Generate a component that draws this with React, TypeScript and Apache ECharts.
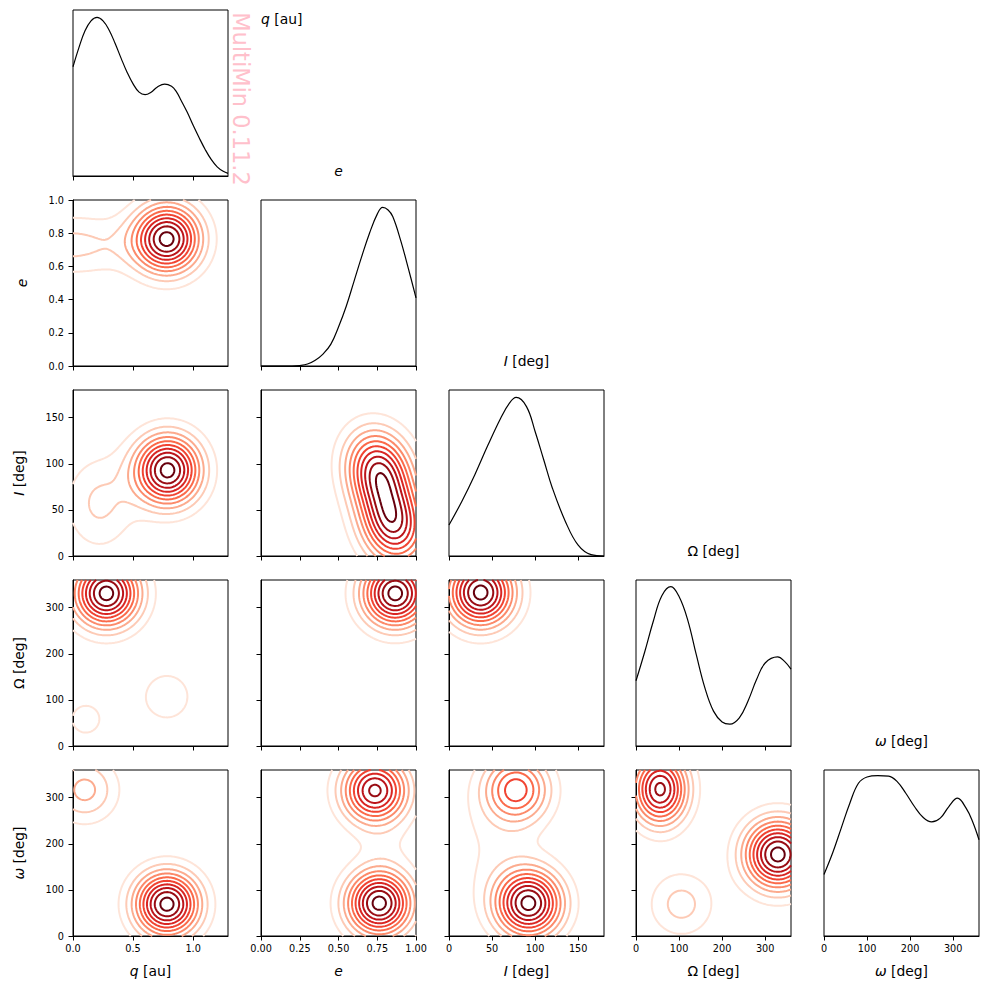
import React, { useEffect, useRef } from 'react';
import * as echarts from 'echarts';

// ---- parameters of the corner plot: q, e, I, Omega, omega ----
const PARAM_MIN = [0, 0, 0, 0, 0];
const PARAM_MAX = [1.29, 1, 180, 360, 360];
const X_TICKS = [
  [0, 0.5, 1.0],
  [0, 0.25, 0.5, 0.75, 1.0],
  [0, 50, 100, 150],
  [0, 100, 200, 300],
  [0, 100, 200, 300],
];
const Y_TICKS = [
  [0, 0.5, 1.0],
  [0, 0.2, 0.4, 0.6, 0.8, 1.0],
  [0, 50, 100, 150],
  [0, 100, 200, 300],
  [0, 100, 200, 300],
];
const X_DECIMALS = [1, 2, 0, 0, 0];
const Y_DECIMALS = [1, 1, 0, 0, 0];

// label pieces: [text, style] where style 'i' = math italic, 'n' = upright
const PARAM_LABELS: [string, string][][] = [
  [['q', 'i'], [' [au]', 'n']],
  [['e', 'i']],
  [['I', 'i'], [' [deg]', 'n']],
  [['\u03A9', 'n'], [' [deg]', 'n']],
  [['\u03C9', 'i'], [' [deg]', 'n']],
];

const WATERMARK = 'MultiMin 0.11.2';

// ---- 1D marginal densities (relative height) ----
const qMarginalX = [0, 0.05, 0.1, 0.15, 0.2, 0.25, 0.3, 0.35, 0.4, 0.45, 0.5, 0.55, 0.6, 0.65, 0.7, 0.763, 0.82, 0.86, 0.9, 0.95, 1.0, 1.05, 1.1, 1.15, 1.2, 1.25, 1.29];
const qMarginalY = [0.658, 0.775, 0.875, 0.935, 0.956, 0.935, 0.88, 0.8, 0.71, 0.625, 0.555, 0.505, 0.49, 0.505, 0.535, 0.554, 0.54, 0.508, 0.455, 0.385, 0.305, 0.23, 0.16, 0.1, 0.055, 0.028, 0.016];

const eMarginalX = [0, 0.1, 0.2, 0.25, 0.3, 0.35, 0.4, 0.45, 0.5, 0.55, 0.6, 0.65, 0.7, 0.75, 0.785, 0.82, 0.85, 0.9, 0.95, 1.0];
const eMarginalY = [0, 0, 0, 0.003, 0.012, 0.035, 0.072, 0.13, 0.235, 0.36, 0.51, 0.66, 0.8, 0.915, 0.955, 0.94, 0.9, 0.76, 0.59, 0.41];

const iMarginalX = [0, 15, 30, 45, 60, 70, 78, 90, 100, 110, 120, 135, 150, 165, 180];
const iMarginalY = [0.187, 0.33, 0.49, 0.665, 0.83, 0.92, 0.955, 0.9, 0.75, 0.58, 0.41, 0.21, 0.065, 0.008, 0];

const bigOmegaMarginalX = [0, 20, 40, 60, 81, 100, 120, 140, 160, 180, 200, 218, 240, 260, 280, 300, 329, 345, 360];
const bigOmegaMarginalY = [0.393, 0.565, 0.75, 0.905, 0.96, 0.9, 0.76, 0.55, 0.35, 0.21, 0.145, 0.132, 0.17, 0.27, 0.4, 0.5, 0.537, 0.51, 0.463];

const omegaMarginalX = [0, 20, 40, 60, 80, 100, 125, 150, 170, 190, 210, 230, 250, 270, 290, 310, 330, 345, 360];
const omegaMarginalY = [0.371, 0.5, 0.65, 0.8, 0.92, 0.958, 0.966, 0.963, 0.93, 0.86, 0.78, 0.715, 0.687, 0.71, 0.78, 0.83, 0.77, 0.69, 0.58];

const MARGINALS = [
  [qMarginalX, qMarginalY],
  [eMarginalX, eMarginalY],
  [iMarginalX, iMarginalY],
  [bigOmegaMarginalX, bigOmegaMarginalY],
  [omegaMarginalX, omegaMarginalY],
];

// ---- 2D mixture components per pair: [cx, cy, sigmaX, sigmaY, rho, weight] ----
type Comp = number[];
const q_e: Comp[] = [
  [0.785, 0.766, 0.19, 0.14, 0, 1.0],
  [-0.02, 0.73, 0.4, 0.125, 0, 0.23],
];
const q_I: Comp[] = [
  [0.788, 93, 0.19, 26, 0, 1.0],
  [0.22, 57, 0.2, 35, 0, 0.21],
];
const e_I: Comp[] = [
  [0.759, 92.7, 0.145, 29.9, -0.12, 1.0],
  [0.854, 34.1, 0.145, 29.9, -0.12, 1.0],
];
const q_bigOmega: Comp[] = [
  [0.278, 331, 0.19, 50, 0, 1.0],
  [0.782, 107, 0.19, 50, 0, 0.143],
  [0.106, 58, 0.19, 50, 0, 0.113],
];
const e_bigOmega: Comp[] = [[0.866, 331, 0.148, 50, 0, 1.0]];
const I_bigOmega: Comp[] = [[36.8, 332.8, 26.7, 51, 0, 1.0]];
const q_omega: Comp[] = [
  [0.782, 69, 0.186, 48, 0, 1.0],
  [0.097, 317, 0.186, 48, 0, 0.32],
];
const e_omega: Comp[] = [
  [0.763, 71, 0.145, 48.5, 0, 1.0],
  [0.735, 315.5, 0.145, 48.5, 0, 0.89],
  [0.8, 195, 0.15, 40, 0, 0.06],
];
const I_omega: Comp[] = [
  [92.7, 70.4, 26.7, 49.7, 0, 1.0],
  [78.3, 318.3, 26.1, 48.6, 0, 0.62],
  [55, 195, 40, 100, 0, 0.1],
];
const bigOmega_omega: Comp[] = [
  [329.5, 176.8, 53.8, 51.4, 0, 1.0],
  [56, 318.3, 44, 53, 0, 0.89],
  [105.4, 69, 52, 48.6, 0, 0.23],
];

// keyed by "xIndex,yIndex"
const PAIRS: Record<string, Comp[]> = {
  '0,1': q_e,
  '0,2': q_I,
  '1,2': e_I,
  '0,3': q_bigOmega,
  '1,3': e_bigOmega,
  '2,3': I_bigOmega,
  '0,4': q_omega,
  '1,4': e_omega,
  '2,4': I_omega,
  '3,4': bigOmega_omega,
};

// ---- layout & style ----
const COL_LEFT = [73, 261, 449, 636, 824];
const ROW_TOP = [10, 200, 390, 580, 770];
const CELL_W = 155;
const CELL_H = 166;
const FONT = 'DejaVu Sans';
const TICK_FONT = 9.7;
const LABEL_FONT = 13.9;
const N_LEVELS = 10;
const PEAK_TO_STEP = 10.45;
const GRID_N = 130;
const LEVEL_COLORS = ['#fee4d8', '#fdcab5', '#fcab8e', '#fc8a6a', '#fb6a4a', '#f14432', '#d92623', '#bc141a', '#990c13', '#67000d'];

function mixtureDensity(comps: Comp[], x: number, y: number): number {
  let s = 0;
  for (const [cx, cy, sx, sy, rho, w] of comps) {
    const dx = (x - cx) / sx;
    const dy = (y - cy) / sy;
    const qf = (dx * dx - 2 * rho * dx * dy + dy * dy) / (1 - rho * rho);
    s += w * Math.exp(-0.5 * qf);
  }
  return s;
}

const SEG_TABLE: number[][][] = [
  [], [[3, 0]], [[0, 1]], [[3, 1]], [[1, 2]], [], [[0, 2]], [[3, 2]],
  [[2, 3]], [[0, 2]], [], [[1, 2]], [[1, 3]], [[0, 1]], [[3, 0]], [],
];

// marching squares, returning joined polylines for one level
function contourLines(field: number[][], xs: number[], ys: number[], level: number): number[][][] {
  const n = xs.length - 1;
  const m = ys.length - 1;
  const pts = new Map<string, number[]>();
  const segs: [string, string][] = [];

  const edgeKey = (e: number, i: number, j: number): string => {
    if (e === 0 || e === 2) {
      const jj = e === 0 ? j : j + 1;
      const key = `h${i}_${jj}`;
      if (!pts.has(key)) {
        const a = field[jj][i];
        const b = field[jj][i + 1];
        const t = (level - a) / (b - a);
        pts.set(key, [xs[i] + t * (xs[i + 1] - xs[i]), ys[jj]]);
      }
      return key;
    }
    const ii = e === 3 ? i : i + 1;
    const key = `v${ii}_${j}`;
    if (!pts.has(key)) {
      const a = field[j][ii];
      const b = field[j + 1][ii];
      const t = (level - a) / (b - a);
      pts.set(key, [xs[ii], ys[j] + t * (ys[j + 1] - ys[j])]);
    }
    return key;
  };

  for (let j = 0; j < m; j++) {
    for (let i = 0; i < n; i++) {
      const a = field[j][i];
      const b = field[j][i + 1];
      const c = field[j + 1][i + 1];
      const d = field[j + 1][i];
      const idx = (a > level ? 1 : 0) | (b > level ? 2 : 0) | (c > level ? 4 : 0) | (d > level ? 8 : 0);
      let pairs = SEG_TABLE[idx];
      if (idx === 5 || idx === 10) {
        const centerAbove = (a + b + c + d) / 4 > level;
        if (idx === 5) pairs = centerAbove ? [[0, 1], [2, 3]] : [[3, 0], [1, 2]];
        else pairs = centerAbove ? [[3, 0], [1, 2]] : [[0, 1], [2, 3]];
      }
      for (const [e1, e2] of pairs) {
        segs.push([edgeKey(e1, i, j), edgeKey(e2, i, j)]);
      }
    }
  }

  const adj = new Map<string, number[]>();
  segs.forEach(([p, q], k) => {
    if (!adj.has(p)) adj.set(p, []);
    if (!adj.has(q)) adj.set(q, []);
    adj.get(p)!.push(k);
    adj.get(q)!.push(k);
  });
  const used = new Array(segs.length).fill(false);
  const out: number[][][] = [];
  for (let s = 0; s < segs.length; s++) {
    if (used[s]) continue;
    used[s] = true;
    const chain = [segs[s][0], segs[s][1]];
    let cur = segs[s][1];
    for (;;) {
      const nxt = (adj.get(cur) || []).find((k) => !used[k]);
      if (nxt === undefined) break;
      used[nxt] = true;
      const [p, q] = segs[nxt];
      cur = p === cur ? q : p;
      chain.push(cur);
    }
    cur = segs[s][0];
    for (;;) {
      const nxt = (adj.get(cur) || []).find((k) => !used[k]);
      if (nxt === undefined) break;
      used[nxt] = true;
      const [p, q] = segs[nxt];
      cur = p === cur ? q : p;
      chain.unshift(cur);
    }
    out.push(chain.map((k) => pts.get(k)!));
  }
  return out;
}

function pairContours(xi: number, yi: number): number[][][][] {
  const comps = PAIRS[`${xi},${yi}`];
  const xs: number[] = [];
  const ys: number[] = [];
  for (let i = 0; i <= GRID_N; i++) {
    xs.push(PARAM_MIN[xi] + (i / GRID_N) * (PARAM_MAX[xi] - PARAM_MIN[xi]));
    ys.push(PARAM_MIN[yi] + (i / GRID_N) * (PARAM_MAX[yi] - PARAM_MIN[yi]));
  }
  let peak = 0;
  const field = ys.map((y) =>
    xs.map((x) => {
      const v = mixtureDensity(comps, x, y);
      if (v > peak) peak = v;
      return v;
    })
  );
  const step = peak / PEAK_TO_STEP;
  const result: number[][][][] = [];
  for (let k = 1; k <= N_LEVELS; k++) result.push(contourLines(field, xs, ys, k * step));
  return result;
}

function richLabel(parts: [string, string][]): string {
  return parts.map(([t, s]) => `{${s}|${t}}`).join('');
}

const RICH = {
  i: { fontFamily: FONT, fontSize: LABEL_FONT, fontStyle: 'italic', fill: '#000', color: '#000' },
  n: { fontFamily: FONT, fontSize: LABEL_FONT, fontStyle: 'normal', fill: '#000', color: '#000' },
};

function labelText(parts: [string, string][], x: number, y: number, rotation = 0, align = 'center') {
  return {
    type: 'text',
    x,
    y,
    rotation,
    silent: true,
    style: {
      text: richLabel(parts),
      rich: RICH,
      align,
      verticalAlign: 'middle',
      fontFamily: FONT,
      fontSize: LABEL_FONT,
      fill: '#000',
    },
  };
}

function buildOption() {
  const grids: any[] = [];
  const xAxes: any[] = [];
  const yAxes: any[] = [];
  const series: any[] = [];
  const tickStyle = { color: '#000', width: 1 };

  let g = 0;
  for (let r = 0; r < 5; r++) {
    for (let c = 0; c <= r; c++) {
      grids.push({
        left: COL_LEFT[c],
        top: ROW_TOP[r],
        width: CELL_W,
        height: CELL_H,
        show: true,
        borderColor: '#000',
        borderWidth: 1,
        backgroundColor: '#fff',
      });
      const xDec = X_DECIMALS[c];
      xAxes.push({
        gridIndex: g,
        type: 'value',
        min: PARAM_MIN[c],
        max: PARAM_MAX[c],
        axisLine: { show: true, onZero: false, lineStyle: tickStyle },
        axisTick: { show: true, inside: false, length: 4.5, lineStyle: tickStyle, customValues: X_TICKS[c] },
        axisLabel: {
          show: r === 4,
          customValues: X_TICKS[c],
          formatter: (v: number) => Number(v).toFixed(xDec),
          fontSize: TICK_FONT,
          fontFamily: FONT,
          color: '#000',
          margin: 7,
        },
        splitLine: { show: false },
      });
      if (r === c) {
        yAxes.push({ gridIndex: g, type: 'value', min: 0, max: 1, show: false });
        const [mx, my] = MARGINALS[c];
        series.push({
          type: 'line',
          xAxisIndex: g,
          yAxisIndex: g,
          data: mx.map((x, k) => [x, my[k]]),
          smooth: 0.4,
          showSymbol: false,
          silent: true,
          lineStyle: { color: '#000', width: 1.2 },
        });
      } else {
        const yDec = Y_DECIMALS[r];
        yAxes.push({
          gridIndex: g,
          type: 'value',
          min: PARAM_MIN[r],
          max: PARAM_MAX[r],
          axisLine: { show: true, onZero: false, lineStyle: tickStyle },
          axisTick: { show: true, inside: false, length: 4.5, lineStyle: tickStyle, customValues: Y_TICKS[r] },
          axisLabel: {
            show: c === 0,
            customValues: Y_TICKS[r],
            formatter: (v: number) => Number(v).toFixed(yDec),
            fontSize: TICK_FONT,
            fontFamily: FONT,
            color: '#000',
            margin: 9,
          },
          splitLine: { show: false },
        });
        const levels = pairContours(c, r);
        levels.forEach((lines, k) => {
          series.push({
            type: 'lines',
            coordinateSystem: 'cartesian2d',
            xAxisIndex: g,
            yAxisIndex: g,
            polyline: true,
            silent: true,
            effect: { show: false },
            lineStyle: { color: LEVEL_COLORS[k], width: 2, opacity: 1, curveness: 0 },
            data: lines.map((coords) => ({ coords })),
            z: 2 + k,
          });
        });
      }
      g++;
    }
  }

  const graphics: any[] = [];
  // diagonal titles
  graphics.push(labelText(PARAM_LABELS[0], 261, 19, 0, 'left'));
  for (let k = 1; k < 5; k++) {
    graphics.push(labelText(PARAM_LABELS[k], COL_LEFT[k] + CELL_W / 2, ROW_TOP[k] - 29));
  }
  // bottom axis labels
  for (let k = 0; k < 5; k++) {
    graphics.push(labelText(PARAM_LABELS[k], COL_LEFT[k] + CELL_W / 2, 971));
  }
  // left axis labels
  for (let k = 1; k < 5; k++) {
    graphics.push(labelText(PARAM_LABELS[k], k === 1 ? 22 : 19, ROW_TOP[k] + CELL_H / 2, Math.PI / 2));
  }
  graphics.push({
    type: 'text',
    x: 241,
    y: 99,
    rotation: -Math.PI / 2,
    silent: true,
    style: {
      text: WATERMARK,
      align: 'center',
      verticalAlign: 'middle',
      fontFamily: FONT,
      fontSize: 22.5,
      fill: '#ffc0cb',
    },
  });

  return {
    animation: false,
    backgroundColor: '#fff',
    grid: grids,
    xAxis: xAxes,
    yAxis: yAxes,
    series,
    graphic: graphics,
  };
}

export default function App() {
  const ref = useRef<HTMLDivElement>(null);
  useEffect(() => {
    document.body.style.margin = '0';
    const chart = echarts.init(ref.current!, undefined, { renderer: 'svg' });
    chart.setOption(buildOption() as any);
    return () => chart.dispose();
  }, []);
  return <div ref={ref} style={{ width: 989, height: 990, background: '#fff' }} />;
}
